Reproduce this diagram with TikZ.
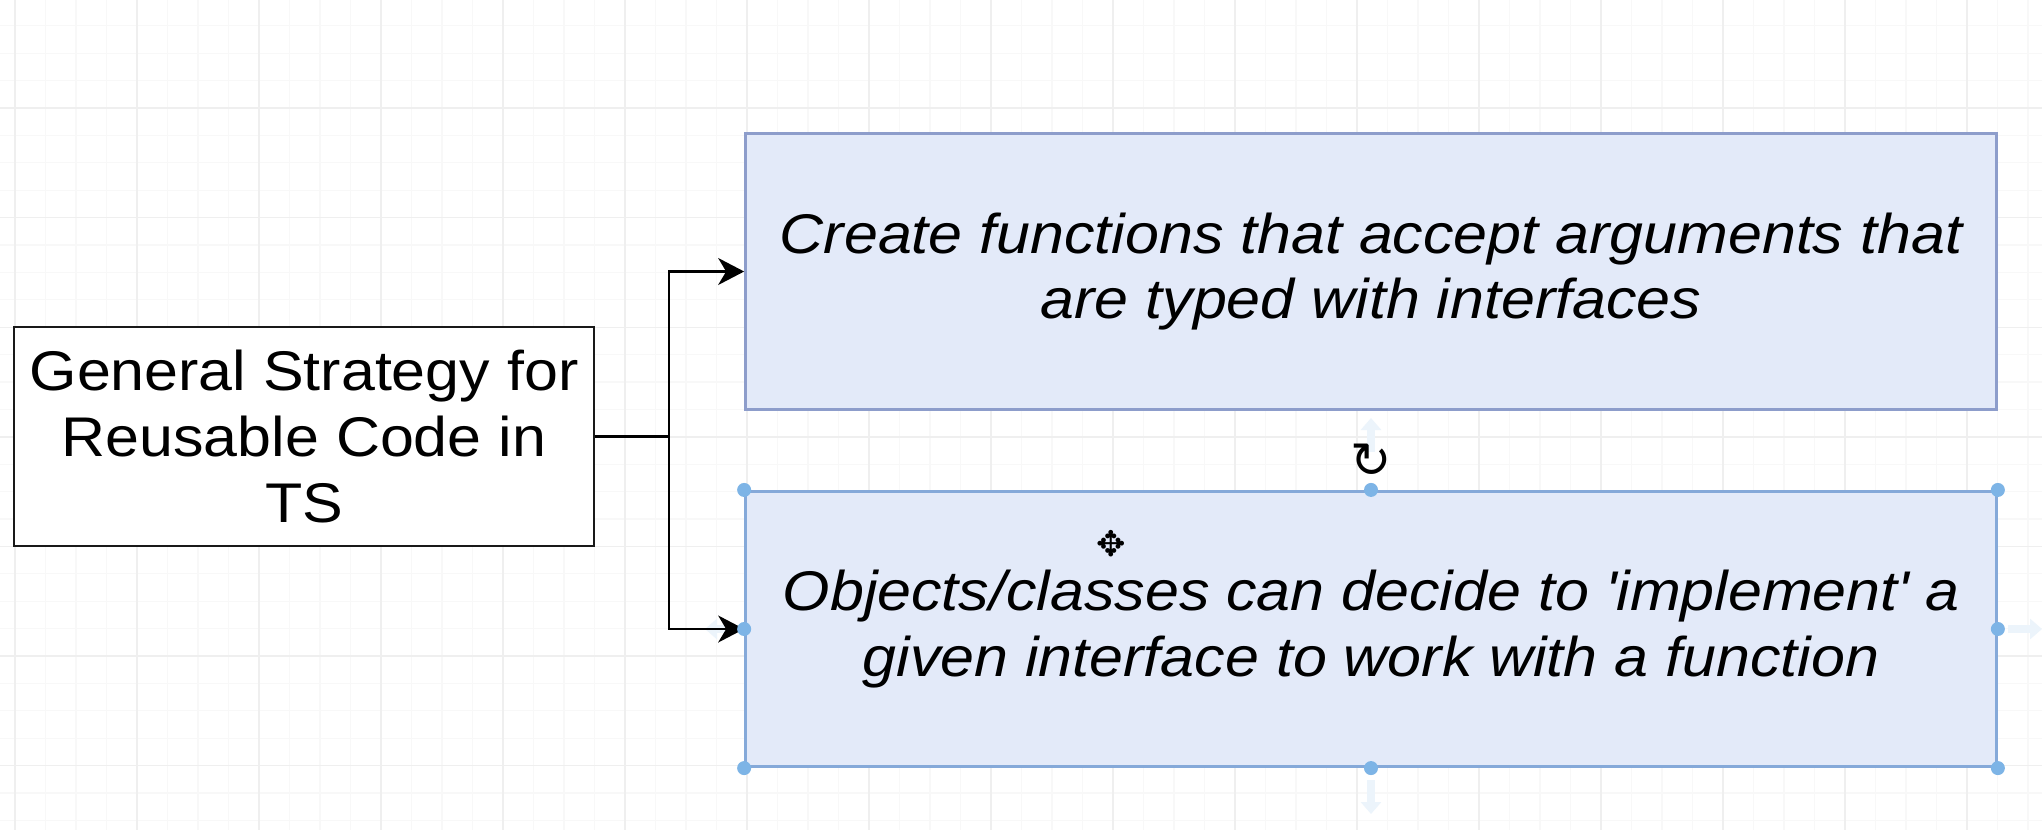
\documentclass[tikz,border=0pt]{standalone}
\usepackage{fontspec}
\setmainfont{Liberation Sans}[FakeStretch=1.09]
\newfontfamily\symfont{DejaVu Sans}
\usetikzlibrary{arrows.meta}

\definecolor{gridminor}{HTML}{F8F8F8}
\definecolor{gridmajor}{HTML}{EFEFEF}
\definecolor{ideafill}{HTML}{E3EAF9}
\definecolor{idealine}{HTML}{8D9DCB}
\definecolor{handle}{HTML}{7DB4E6}

\tikzset{
  strategy/.style={draw=black!90, fill=white, line width=0.75pt, minimum width=5.8cm,
    minimum height=2.19cm, inner sep=0pt, align=center,
    font=\fontsize{15.9}{18.7}\selectfont},
  idea/.style={draw=idealine, fill=ideafill, line width=0.85pt, minimum width=12.5cm,
    minimum height=2.75cm, inner sep=0pt, align=center,
    font=\fontsize{15.9}{18.6}\selectfont\itshape},
  link/.style={line width=0.6pt, -{Stealth[length=0.26cm, width=0.27cm, inset=0.08cm]}},
  handledot/.style={circle, fill=handle, inner sep=0pt, minimum size=0.14cm},
  hover/.style={handle!15, line width=2.2pt, -{Triangle[length=0.12cm, width=0.2cm]}},
}

\begin{document}
\begin{tikzpicture}[x=0.01cm, y=-0.01cm]
    \useasboundingbox (0,0) rectangle (2042,830);
    \fill[white] (0,0) rectangle (2042,830);

    % grid of the canvas
    \foreach \i in {0,...,66} \draw[gridminor, line width=0.3pt] ({15+\i*30.5},0) -- ++(0,830);
    \foreach \i in {0,...,30} \draw[gridminor, line width=0.3pt] (0,{25.8+\i*27.4}) -- ++(2042,0);
    \foreach \i in {0,...,16} \draw[gridmajor, line width=0.4pt] ({15+\i*122},0) -- ++(0,830);
    \foreach \i in {0,...,6} \draw[gridmajor, line width=0.4pt] (0,{108+\i*109.6}) -- ++(2042,0);

    % hover arrows of the selected box
    \draw[hover] (1371,452) -- (1371,418);
    \draw[hover] (1371,780) -- (1371,814);
    \draw[hover] (2008,629) -- (2042,629);
    \draw[hover] (738,629) -- (705,629);

    \node[strategy] (strategy) at (304,436.5) {General Strategy for\\Reusable Code in\\TS};
    \node[idea] (typed) at (1371,271.5) {Create functions that accept arguments that\\are typed with interfaces};
    \node[idea, draw=idealine!50!handle] (implement) at (1371,629) {Objects/classes can decide to \textquotesingle implement\textquotesingle{} a\\given interface to work with a function};

    \coordinate (fork) at (669,436.5);
    \draw[line width=0.6pt] (strategy.east) -- (fork);
    \draw[link] (fork) |- (typed.west);
    \draw[link] (fork) |- (implement.west);

    % selection handles
    \foreach \p in {north west, north, north east, east, south east, south, south west, west}
        \node[handledot] at (implement.\p) {};
    \node[font=\symfont\fontsize{14}{14}\selectfont] (rotate) at (1371,461) {↻};
    \node[font=\symfont\fontsize{10}{10}\selectfont] (move) at (1111,544) {✥};
\end{tikzpicture}
\end{document}
